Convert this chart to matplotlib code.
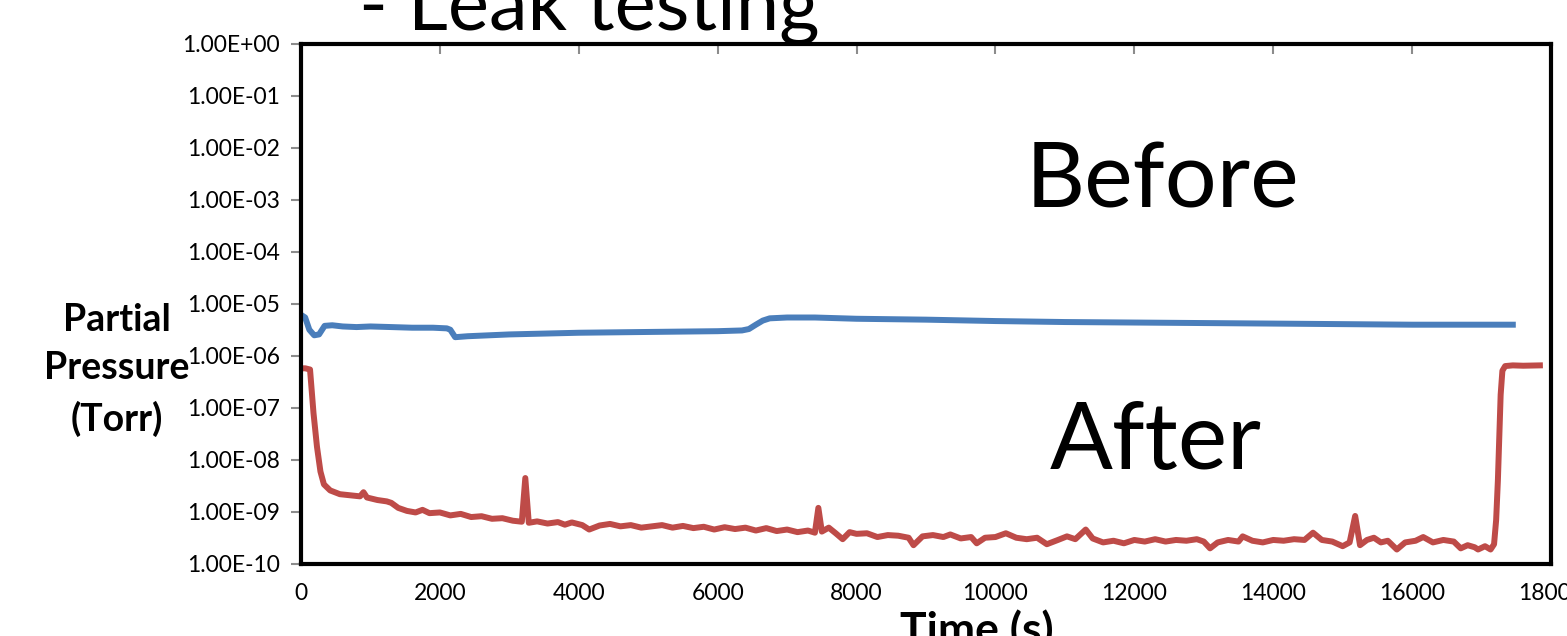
import numpy as np
import matplotlib
matplotlib.use("Agg")
import matplotlib.pyplot as plt
from matplotlib.ticker import FuncFormatter, NullLocator

plt.rcParams['font.family'] = ['Lato', 'DejaVu Sans']

# Before leak fix (blue)
before_t = [0, 60, 120, 190, 260, 340, 450, 600, 800, 1000, 1300, 1600, 1900,
            2100, 2150, 2220, 2400, 3000, 4000, 5000, 6000, 6350, 6450, 6550,
            6650, 6750, 7000, 7400, 8000, 9000, 10000, 11000, 12000, 13000,
            14000, 15000, 16000, 17000, 17450]
before_p = [6.2e-6, 5.5e-6, 3.2e-6, 2.5e-6, 2.6e-6, 3.8e-6, 3.9e-6, 3.7e-6,
            3.6e-6, 3.7e-6, 3.6e-6, 3.5e-6, 3.5e-6, 3.4e-6, 3.2e-6, 2.3e-6,
            2.4e-6, 2.6e-6, 2.8e-6, 2.9e-6, 3.0e-6, 3.1e-6, 3.3e-6, 4.0e-6,
            4.8e-6, 5.3e-6, 5.5e-6, 5.5e-6, 5.2e-6, 5.0e-6, 4.7e-6, 4.5e-6,
            4.4e-6, 4.3e-6, 4.2e-6, 4.1e-6, 4.0e-6, 4.0e-6, 4.0e-6]

# After leak fix (red)
after_t = [0, 60, 130, 180, 230, 280, 330, 420, 560, 700, 850, 900, 950, 1100,
           1235, 1300, 1400, 1525, 1650, 1750, 1850, 2000, 2150, 2300, 2450,
           2600, 2750, 2900, 3050, 3180, 3230, 3280, 3400, 3550, 3700, 3800,
           3900, 4050, 4150, 4300, 4450, 4600, 4750, 4900, 5050, 5200, 5350,
           5500, 5650, 5800, 5950, 6100, 6250, 6400, 6550, 6700, 6850, 7000,
           7150, 7300, 7400, 7450, 7500, 7600, 7700, 7800, 7900, 8000, 8150,
           8300, 8450, 8600, 8750, 8820, 8950, 9100, 9250, 9350, 9500, 9650,
           9730, 9850, 10000, 10150, 10300, 10450, 10600, 10740, 10900, 11030,
           11150, 11300, 11400, 11550, 11700, 11850, 12000, 12150, 12300,
           12450, 12600, 12750, 12900, 13000, 13090, 13200, 13350, 13500,
           13560, 13700, 13850, 14000, 14150, 14300, 14450, 14573, 14700,
           14850, 15000, 15100, 15180, 15250, 15350, 15450, 15550, 15650,
           15780, 15900, 16050, 16160, 16300, 16450, 16600, 16700, 16800,
           16900, 16950, 17050, 17130, 17180, 17210, 17235, 17255, 17275,
           17300, 17340, 17450, 17600, 17840]
after_p = [5.8e-7, 5.8e-7, 5.5e-7, 8e-8, 1.8e-8, 6e-9, 3.4e-9, 2.6e-9, 2.2e-9,
           2.1e-9, 2.0e-9, 2.4e-9, 1.9e-9, 1.7e-9, 1.6e-9, 1.5e-9, 1.2e-9,
           1.05e-9, 9.8e-10, 1.1e-9, 9.5e-10, 9.8e-10, 8.6e-10, 9.2e-10,
           8.0e-10, 8.3e-10, 7.4e-10, 7.6e-10, 6.8e-10, 6.5e-10, 4.5e-9,
           6.2e-10, 6.6e-10, 6.0e-10, 6.4e-10, 5.7e-10, 6.3e-10, 5.6e-10,
           4.6e-10, 5.5e-10, 5.9e-10, 5.3e-10, 5.6e-10, 5.0e-10, 5.3e-10,
           5.6e-10, 5.0e-10, 5.4e-10, 4.9e-10, 5.2e-10, 4.6e-10, 5.1e-10,
           4.7e-10, 5.0e-10, 4.4e-10, 4.9e-10, 4.3e-10, 4.6e-10, 4.1e-10,
           4.4e-10, 4.0e-10, 1.2e-9, 4.2e-10, 5.0e-10, 3.9e-10, 3.0e-10,
           4.1e-10, 3.8e-10, 3.9e-10, 3.3e-10, 3.6e-10, 3.5e-10, 3.2e-10,
           2.3e-10, 3.4e-10, 3.6e-10, 3.3e-10, 3.7e-10, 3.1e-10, 3.3e-10,
           2.5e-10, 3.2e-10, 3.3e-10, 3.9e-10, 3.2e-10, 3.0e-10, 3.2e-10,
           2.4e-10, 2.9e-10, 3.4e-10, 3.0e-10, 4.6e-10, 3.1e-10, 2.6e-10,
           2.8e-10, 2.5e-10, 2.9e-10, 2.7e-10, 3.0e-10, 2.7e-10, 2.9e-10,
           2.8e-10, 3.0e-10, 2.7e-10, 2.0e-10, 2.6e-10, 2.9e-10, 2.7e-10,
           3.4e-10, 2.8e-10, 2.6e-10, 2.9e-10, 2.8e-10, 3.0e-10, 2.9e-10,
           4.0e-10, 2.9e-10, 2.7e-10, 2.2e-10, 2.6e-10, 8.4e-10, 2.3e-10,
           2.9e-10, 3.2e-10, 2.6e-10, 2.8e-10, 1.9e-10, 2.6e-10, 2.8e-10,
           3.3e-10, 2.6e-10, 2.9e-10, 2.7e-10, 2.0e-10, 2.3e-10, 2.1e-10,
           1.9e-10, 2.2e-10, 1.9e-10, 2.4e-10, 7e-10, 4e-9, 2.5e-8, 1.8e-7,
           5.2e-7, 6.4e-7, 6.6e-7, 6.5e-7, 6.6e-7]

x_ticks = [0, 2000, 4000, 6000, 8000, 10000, 12000, 14000, 16000, 18000]
y_ticks = [1e-10, 1e-9, 1e-8, 1e-7, 1e-6, 1e-5, 1e-4, 1e-3, 1e-2, 1e-1, 1e0]

fig = plt.figure(figsize=(15.67, 6.36), dpi=100)
ax = fig.add_axes([301 / 1567, 1 - 564 / 636, 1250 / 1567, 520 / 636])

ax.plot(before_t, before_p, color='#4A7EBB', lw=4.3, solid_joinstyle='round')
ax.plot(after_t, after_p, color='#BE4B48', lw=4.3, solid_joinstyle='round')

ax.set_yscale('log')
ax.set_ylim(1e-10, 1)
ax.set_xlim(0, 18000)
ax.set_yticks(y_ticks)
ax.yaxis.set_minor_locator(NullLocator())
ax.yaxis.set_major_formatter(FuncFormatter(lambda v, p: f"{v:.2E}"))
ax.set_xticks(x_ticks)

for s in ax.spines.values():
    s.set_linewidth(3)
    s.set_color('black')

ax.tick_params(axis='y', direction='out', length=7, width=1.5, color='#8c8c8c',
               labelsize=16.5, pad=8)
ax.tick_params(axis='x', direction='in', length=7, width=1.5, color='#8c8c8c',
               top=True, bottom=False, labelsize=16.5, pad=14)

ax.text(0.689, 0.6865, 'Before', transform=ax.transAxes, fontsize=66,
        ha='center', va='baseline')
ax.text(0.684, 0.1827, 'After', transform=ax.transAxes, fontsize=67,
        ha='center', va='baseline')

fig.text(117 / 1567, 1 - 370 / 636, 'Partial\nPressure\n(Torr)', fontsize=27,
         fontweight='bold', ha='center', va='center', linespacing=1.52)
fig.text(977 / 1567, 1 - 644 / 636, 'Time (s)', fontsize=32,
         fontweight='bold', ha='center', va='baseline')
fig.text(589 / 1567, 1 - 30 / 636, '- Leak testing', fontsize=56,
         ha='center', va='baseline')

fig.savefig('out.png', dpi=100)
